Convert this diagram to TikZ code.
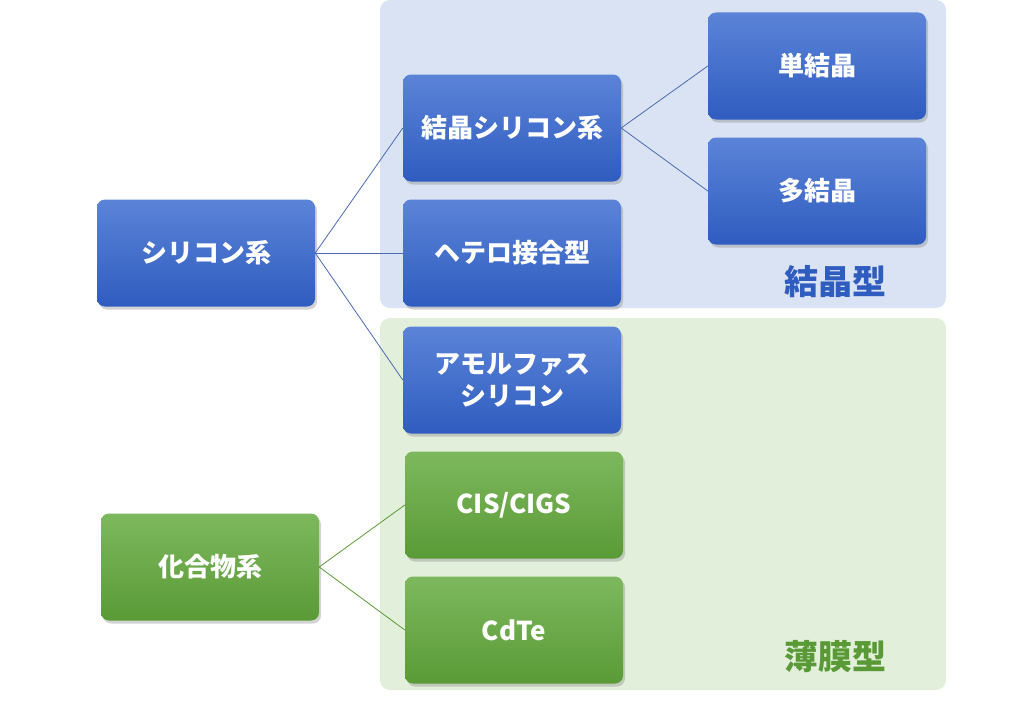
\documentclass[tikz,border=0pt]{standalone}
\usepackage{fontspec}
\setmainfont{Noto Sans CJK JP}
\usetikzlibrary{positioning,shadows}
\definecolor{bluetop}{HTML}{5B84D8}
\definecolor{bluebot}{HTML}{2F5CBF}
\definecolor{greentop}{HTML}{7DB85E}
\definecolor{greenbot}{HTML}{5A9A36}
\definecolor{bluebg}{HTML}{DAE3F3}
\definecolor{greenbg}{HTML}{E2EFDA}
\definecolor{blueline}{HTML}{4A6BB0}
\definecolor{greenline}{HTML}{5A9A36}
\tikzset{
  box/.style={rounded corners=8pt, minimum width=218pt, minimum height=107pt,
    text=white, font=\fontsize{26}{32}\selectfont\bfseries, align=center,
    drop shadow={shadow xshift=2pt, shadow yshift=-3pt, opacity=0.35}},
  bluebox/.style={box, top color=bluetop, bottom color=bluebot},
  greenbox/.style={box, top color=greentop, bottom color=greenbot},
  bline/.style={blueline, line width=0.8pt},
  gline/.style={greenline, line width=0.8pt},
}
\begin{document}
\begin{tikzpicture}[x=1pt,y=-1pt]
        \useasboundingbox (0,0) rectangle (1024,709);
        % background areas
        \fill[bluebg, rounded corners=10pt] (380,0) rectangle (946,308);
        \fill[greenbg, rounded corners=10pt] (380,318) rectangle (946,690);
        \node[text=bluebot, font=\fontsize{34}{40}\selectfont\bfseries] (kessho) at (835,282) {結晶型};
        \node[text=greenbot, font=\fontsize{34}{40}\selectfont\bfseries] (hakumaku) at (835,657) {薄膜型};

        % boxes
        \node[bluebox] (si) at (206,253) {シリコン系};
        \node[greenbox] (comp) at (210,567) {化合物系};
        \node[bluebox] (csi) at (512,128) {結晶シリコン系};
        \node[bluebox] (hetero) at (512,253) {ヘテロ接合型};
        \node[bluebox] (asi) at (512,380) {アモルファス\\シリコン};
        \node[greenbox] (cis) at (514,505) {CIS/CIGS};
        \node[greenbox] (cdte) at (514,630) {CdTe};
        \node[bluebox] (mono) at (817,66) {単結晶};
        \node[bluebox] (poly) at (817,191) {多結晶};

        % connectors
        \foreach \c in {csi,hetero,asi}
            \draw[bline] (si.east) -- (\c.west);
        \foreach \c in {mono,poly}
            \draw[bline] (csi.east) -- (\c.west);
        \foreach \c in {cis,cdte}
            \draw[gline] (comp.east) -- (\c.west);
\end{tikzpicture}
\end{document}
